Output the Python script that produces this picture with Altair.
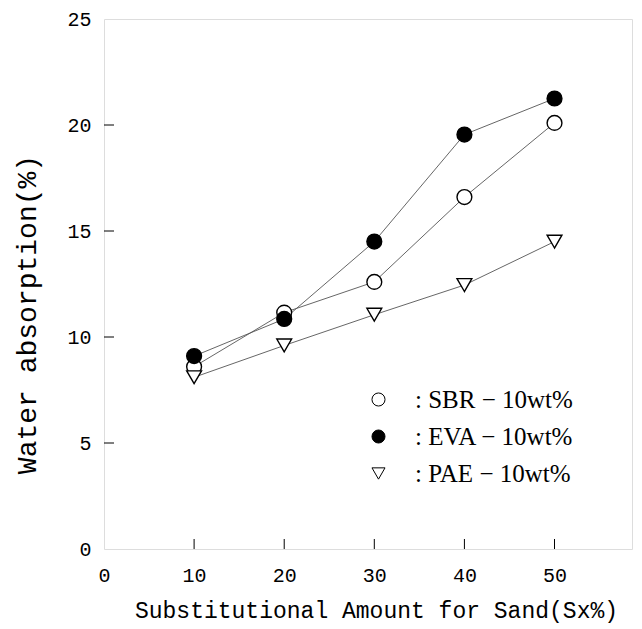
import altair as alt
import pandas as pd

x_vals = [10, 20, 30, 40, 50]
sbr = [8.6, 11.15, 12.6, 16.6, 20.1]
eva = [9.1, 10.85, 14.5, 19.55, 21.25]
pae = [8.1, 9.6, 11.05, 12.45, 14.5]
series_names = ["SBR−10wt%", "EVA−10wt%", "PAE−10wt%"]
x_ticks = [0, 10, 20, 30, 40, 50]
y_ticks = [0, 5, 10, 15, 20, 25]

rows = []
for name, vals in zip(series_names, [sbr, eva, pae]):
    for xv, yv in zip(x_vals, vals):
        rows.append({"x": xv, "y": yv, "series": name})
df = pd.DataFrame(rows)

xscale = alt.Scale(domain=[0, 58.6], nice=False, zero=False)
yscale = alt.Scale(domain=[0, 25], nice=False)

FONT = "Liberation Mono"

xenc = alt.X("x:Q", scale=xscale, axis=alt.Axis(
    values=x_ticks, tickSize=0, domain=False, grid=False,
    labelFont=FONT, labelFontSize=20, labelPadding=16, labelFlush=False,
    labelOverlap=False, labelColor="black",
    title="Substitutional Amount for Sand(Sx%)", titleFont=FONT,
    titleFontSize=23, titleFontWeight="normal", titleColor="black",
    titleX=272, titleY=61, titleBaseline="middle", titleAnchor="middle", titleAlign="center"))
yenc = alt.Y("y:Q", scale=yscale, axis=alt.Axis(
    values=y_ticks, tickSize=0, domain=False, grid=False,
    labelFont=FONT, labelFontSize=20, labelPadding=13, labelFlush=False,
    labelOverlap=False, labelColor="black",
    title="Water absorption(%)", titleFont=FONT, titleFontSize=28,
    titleFontWeight="normal", titleColor="black", titleAngle=-90,
    titleX=-77, titleY=295, titleBaseline="middle", titleAlign="center", titleAnchor="middle"))

lines = alt.Chart(df).mark_line(color="#555555", strokeWidth=0.9).encode(
    x=xenc, y=yenc, detail="series:N")

leg = alt.Legend(title=None, orient="none", legendX=262, legendY=368,
                 labelFont="Liberation Serif", labelFontSize=25,
                 labelColor="black", symbolSize=170, labelLimit=0,
                 symbolStrokeWidth=1,
                 rowPadding=11, labelOffset=24,
                 labelExpr="':  ' + replace(datum.label, '−', ' − ')")

points = alt.Chart(df).mark_point(size=220, strokeWidth=1.4, opacity=1, filled=False).encode(
    x=alt.X("x:Q", scale=xscale),
    y=alt.Y("y:Q", scale=yscale),
    shape=alt.Shape("series:N", scale=alt.Scale(domain=series_names,
                    range=["circle", "circle", "triangle-down"]), legend=leg),
    fill=alt.Fill("series:N", scale=alt.Scale(domain=series_names,
                  range=["white", "black", "white"]), legend=leg),
    stroke=alt.Stroke("series:N", scale=alt.Scale(domain=series_names,
                      range=["black", "black", "black"]), legend=leg),
)

ytick_df = pd.DataFrame({"v": [5, 10, 15, 20]})
xtick_df = pd.DataFrame({"v": [10, 20, 30, 40, 50]})
yticks = alt.Chart(ytick_df).mark_rule(color="black", strokeWidth=1).encode(
    y=alt.Y("v:Q", scale=yscale), x=alt.value(0), x2=alt.value(10))
xticks = alt.Chart(xtick_df).mark_rule(color="black", strokeWidth=1).encode(
    x=alt.X("v:Q", scale=xscale), y=alt.value(530), y2=alt.value(520))

chart = alt.layer(lines, yticks, xticks, points).properties(
    width=528, height=530,
    autosize=alt.AutoSizeParams(type="none"),
    padding={"left": 96, "top": 11, "right": 2, "bottom": 78},
).configure_view(stroke="black", strokeWidth=1.5).configure(background="white")

chart.save("out.html", embed_options={"renderer": "svg", "actions": False})
